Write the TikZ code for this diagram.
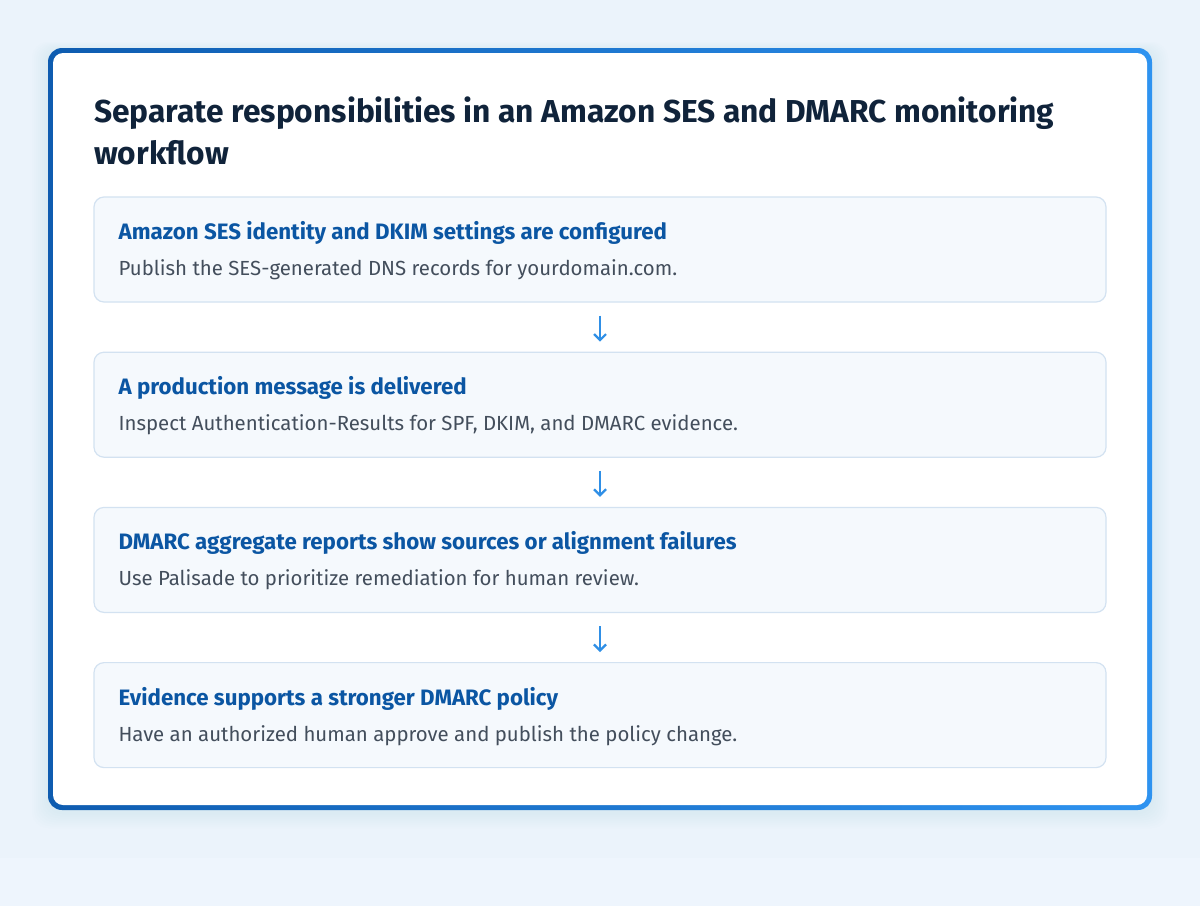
\documentclass[tikz,border=0pt]{standalone}
\usepackage{fontspec}
\setmainfont{Fira Sans}
\usetikzlibrary{arrows.meta,positioning}
\definecolor{pagebg}{HTML}{EBF3FB}
\definecolor{stripbg}{HTML}{EEF5FD}
\definecolor{cardleft}{HTML}{0E5CB0}
\definecolor{cardright}{HTML}{2E93F0}
\definecolor{titlenavy}{HTML}{10233A}
\definecolor{headblue}{HTML}{0B56A3}
\definecolor{bodygrey}{HTML}{434E5C}
\definecolor{boxfill}{HTML}{F5F9FD}
\definecolor{boxline}{HTML}{D3E2F1}
\definecolor{arrowblue}{HTML}{2F8FE6}
\definecolor{shadowblue}{HTML}{9DC2EA}

\begin{document}
\begin{tikzpicture}[x=1pt,y=-1pt,>={Straight Barb[length=6pt,width=12pt]},node distance=49pt,
  stepbox/.style={draw=boxline,fill=boxfill,line width=1.2pt,rounded corners=10pt,
    minimum width=1012pt,minimum height=105pt,inner sep=0pt},
  titletext/.style={anchor=base west,inner sep=0pt,text=titlenavy,
    font=\bfseries\fontsize{31.7}{42}\selectfont},
  headtext/.style={anchor=base west,inner sep=0pt,text=headblue,
    font=\bfseries\fontsize{22.3}{26}\selectfont},
  bodytext/.style={anchor=base west,inner sep=0pt,text=bodygrey,
    font=\fontsize{20.4}{24}\selectfont},
  flow/.style={->,draw=arrowblue,line width=2.2pt,shorten <=13pt,shorten >=10pt}]

  \useasboundingbox (0,0) rectangle (1200,906);
  \fill[pagebg] (0,0) rectangle (1200,906);
  \fill[stripbg] (0,858) rectangle (1200,906);

  % soft shadow under the card
  \foreach \i in {1,...,8}
    \fill[shadowblue,opacity=0.02,rounded corners=16pt]
      (48-2*\i,50-\i) rectangle (1152+2*\i,812+2*\i);

  % card with gradient frame
  \shade[left color=cardleft,right color=cardright,rounded corners=14pt]
    (48,48) rectangle (1152,810);
  \fill[white,rounded corners=10pt] (53,53) rectangle (1147,805);

  \node[titletext] (t1) at (94,122)
    {Separate responsibilities in an Amazon SES and DMARC monitoring};
  \node[titletext] (t2) at (94,164) {workflow};

  \node[stepbox] (s1) at (600,249.5) {};
  \node[stepbox,below=of s1] (s2) {};
  \node[stepbox,below=of s2] (s3) {};
  \node[stepbox,below=of s3] (s4) {};

  \node[headtext] (h1) at ([xshift=25pt,yshift=-43pt]s1.north west)
    {Amazon SES identity and DKIM settings are configured};
  \node[bodytext] (b1) at ([xshift=25pt,yshift=-79pt]s1.north west)
    {Publish the SES-generated DNS records for yourdomain.com.};

  \node[headtext] (h2) at ([xshift=25pt,yshift=-43pt]s2.north west)
    {A production message is delivered};
  \node[bodytext] (b2) at ([xshift=25pt,yshift=-79pt]s2.north west)
    {Inspect Authentication-Results for SPF, DKIM, and DMARC evidence.};

  \node[headtext] (h3) at ([xshift=25pt,yshift=-43pt]s3.north west)
    {DMARC aggregate reports show sources or alignment failures};
  \node[bodytext] (b3) at ([xshift=25pt,yshift=-79pt]s3.north west)
    {Use Palisade to prioritize remediation for human review.};

  \node[headtext] (h4) at ([xshift=25pt,yshift=-43pt]s4.north west)
    {Evidence supports a stronger DMARC policy};
  \node[bodytext] (b4) at ([xshift=25pt,yshift=-79pt]s4.north west)
    {Have an authorized human approve and publish the policy change.};

  \draw[flow] (s1) -- (s2);
  \draw[flow] (s2) -- (s3);
  \draw[flow] (s3) -- (s4);
\end{tikzpicture}
\end{document}
